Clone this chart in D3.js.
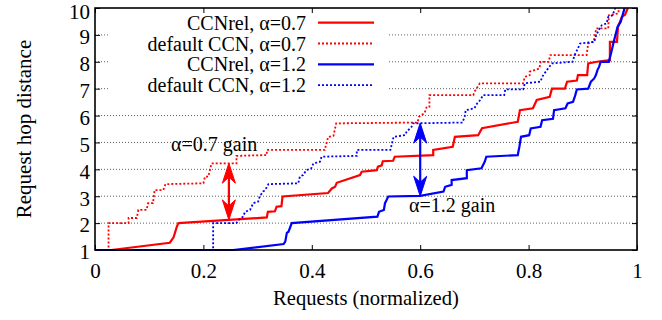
<!DOCTYPE html>
<html>
<head>
<meta charset="utf-8">
<script src="https://cdn.jsdelivr.net/npm/d3@7"></script>
<style>
  body { margin: 0; background: #fff; }
  text { font-family: "Liberation Serif", "Times New Roman", serif; fill: #000; }
</style>
</head>
<body>
<div id="vis"></div>
<script>
// series values: [requests (normalized), hop distance]
let relLow = [
  [0,1],[0.03,1],[0.138,1.27],[0.145,1.47],[0.151,1.87],[0.154,2.0],[0.317,2.21],[0.319,2.42],
  [0.332,2.44],[0.335,2.61],[0.344,2.63],[0.346,2.99],[0.43,3.12],[0.437,3.29],[0.443,3.35],
  [0.446,3.5],[0.489,3.79],[0.492,3.91],[0.52,3.97],[0.522,4.1],[0.529,4.15],[0.531,4.3],
  [0.55,4.32],[0.553,4.47],[0.624,4.53],[0.624,4.72],[0.66,4.84],[0.664,5.21],[0.707,5.27],
  [0.714,5.53],[0.78,5.77],[0.784,6.2],[0.808,6.27],[0.815,6.58],[0.839,6.7],[0.843,7.0],
  [0.867,7.0],[0.871,7.26],[0.889,7.3],[0.891,7.5],[0.908,7.5],[0.91,7.94],[0.926,8.0],
  [0.95,8.06],[0.95,8.74],[0.963,8.74],[0.965,9.3],[0.972,9.67],[0.978,9.75],[0.983,10]
]
let defLow = [
  [0,1],[0.025,1],[0.025,2.0],[0.062,2.0],[0.062,2.19],[0.077,2.19],[0.08,2.49],[0.095,2.49],
  [0.098,2.74],[0.107,2.74],[0.11,3.23],[0.126,3.23],[0.13,3.45],[0.2,3.48],[0.203,3.73],
  [0.209,3.73],[0.212,3.97],[0.215,4.22],[0.261,4.22],[0.261,4.5],[0.317,4.53],[0.317,4.72],
  [0.424,4.72],[0.426,4.9],[0.428,5.03],[0.43,5.2],[0.44,5.25],[0.445,5.71],[0.595,5.74],
  [0.598,5.96],[0.608,6.09],[0.612,6.33],[0.617,6.33],[0.617,6.76],[0.698,6.76],[0.7,6.88],
  [0.71,7.2],[0.79,7.2],[0.793,7.44],[0.802,7.5],[0.802,7.63],[0.82,7.75],[0.822,8.0],
  [0.837,8.0],[0.84,8.25],[0.907,8.25],[0.91,8.68],[0.92,8.74],[0.925,9.24],[0.947,9.24],
  [0.948,9.73],[0.966,9.8],[0.966,10]
]
let relHigh = [
  [0,1],[0.255,1.0],[0.348,1.22],[0.351,1.31],[0.354,1.64],[0.357,1.68],[0.363,2.0],
  [0.521,2.24],[0.524,2.42],[0.533,2.49],[0.535,2.74],[0.538,2.86],[0.541,2.99],[0.6,3.01],
  [0.643,3.17],[0.646,3.35],[0.658,3.42],[0.658,3.6],[0.686,3.67],[0.686,3.97],[0.713,4.04],
  [0.719,4.28],[0.722,4.47],[0.78,4.53],[0.783,4.84],[0.786,5.21],[0.801,5.27],[0.804,5.52],
  [0.822,5.58],[0.825,5.83],[0.845,5.88],[0.847,6.2],[0.868,6.27],[0.872,6.45],[0.882,6.51],
  [0.886,6.75],[0.889,6.97],[0.91,7.0],[0.915,7.26],[0.921,7.38],[0.924,7.5],[0.927,7.69],
  [0.93,7.81],[0.933,8.0],[0.948,8.0],[0.952,8.31],[0.957,8.74],[0.961,9.05],[0.964,9.3],
  [0.97,9.49],[0.976,9.92],[0.977,10]
]
let defHigh = [
  [0,1],[0.218,1],[0.218,2.0],[0.261,2.0],[0.264,2.1],[0.273,2.24],[0.277,2.42],[0.286,2.49],
  [0.292,2.74],[0.301,2.8],[0.304,3.0],[0.31,3.17],[0.314,3.23],[0.32,3.45],[0.375,3.48],
  [0.378,3.73],[0.384,3.79],[0.39,3.97],[0.399,4.04],[0.403,4.22],[0.415,4.28],[0.418,4.47],
  [0.483,4.5],[0.483,4.72],[0.545,4.72],[0.548,4.97],[0.551,5.21],[0.572,5.27],[0.575,5.4],
  [0.584,5.58],[0.587,5.71],[0.678,5.74],[0.682,5.96],[0.684,6.2],[0.7,6.27],[0.705,6.45],
  [0.711,6.58],[0.716,6.76],[0.755,6.76],[0.757,6.97],[0.79,6.97],[0.793,7.2],[0.822,7.26],
  [0.825,7.44],[0.834,7.7],[0.843,7.94],[0.881,8.0],[0.885,8.25],[0.891,8.5],[0.895,8.68],
  [0.921,8.74],[0.925,9.0],[0.93,9.2],[0.935,9.36],[0.944,9.43],[0.947,9.67],[0.955,9.73],
  [0.96,10]
]

let seriesNames = ['CCNrel, α=0.7', 'default CCN, α=0.7', 'CCNrel, α=1.2', 'default CCN, α=1.2']
let xTicks = [0, 0.2, 0.4, 0.6, 0.8, 1]
let yTicks = [1, 2, 3, 4, 5, 6, 7, 8, 9, 10]

// gain annotations: [x, from, to]
let gainArrows = [[0.247, 4.23, 2.12], [0.6, 5.72, 3.0]]
let gainLabels = ['α=0.7 gain', 'α=1.2 gain']

let W = 662, H = 320
let margin = { top: 8, left: 95, right: 25, bottom: 70 }

let svg = d3.select('#vis')
  .append('svg')
  .attr('width', W)
  .attr('height', H)

let x = d3.scaleLinear().domain([0, 1]).range([margin.left, W - margin.right])
let y = d3.scaleLinear().domain([1, 10]).range([H - margin.bottom, margin.top])

let colors = ['#ff0000', '#ff0000', '#0000ff', '#0000ff']
let dashed = [false, true, false, true]
let allSeries = [relLow, defLow, relHigh, defHigh]

// grid
svg.append('g')
  .selectAll('line')
  .data(yTicks.slice(1, -1))
  .join('line')
  .attr('x1', x(0)).attr('x2', x(1))
  .attr('y1', d => y(d)).attr('y2', d => y(d))
  .attr('stroke', '#606060')
  .attr('stroke-width', 1)
  .attr('stroke-dasharray', '1,2')

// key covers the grid
svg.append('rect')
  .attr('x', 108).attr('y', 11)
  .attr('width', 280).attr('height', 86)
  .attr('fill', '#fff')

// axes with inward ticks
let fontSize = 20, tickFont = 21
let xAxis = svg.append('g')
  .attr('transform', `translate(0,${y(1)})`)
  .call(d3.axisBottom(x).tickValues(xTicks).tickFormat(d3.format('')).tickSizeInner(-5).tickSizeOuter(0).tickPadding(13))
let xAxisTop = svg.append('g')
  .attr('transform', `translate(0,${y(10)})`)
  .call(d3.axisTop(x).tickValues(xTicks).tickFormat('').tickSizeInner(-5).tickSizeOuter(0))
let yAxis = svg.append('g')
  .attr('transform', `translate(${x(0)},0)`)
  .call(d3.axisLeft(y).tickValues(yTicks).tickSizeInner(-5).tickSizeOuter(0).tickPadding(5))
let yAxisRight = svg.append('g')
  .attr('transform', `translate(${x(1)},0)`)
  .call(d3.axisRight(y).tickValues(yTicks).tickFormat('').tickSizeInner(-5).tickSizeOuter(0))

svg.selectAll('.domain').remove()
svg.selectAll('.tick line').attr('stroke', '#000').attr('stroke-width', 1)
svg.selectAll('.tick text')
  .style('font-family', '"Liberation Serif", serif')
  .style('font-size', tickFont + 'px')
  .attr('fill', '#000')
xAxis.selectAll('.tick text').attr('dy', '0.72em')
yAxis.selectAll('.tick text').attr('dy', d => d === 10 ? '0.5em' : '0.42em')

// curves
let line = d3.line().x(d => x(d[0])).y(d => y(d[1]))
allSeries.forEach(function(s, i) {
  svg.append('path')
    .datum(s)
    .attr('d', line)
    .attr('fill', 'none')
    .attr('stroke', colors[i])
    .attr('stroke-width', dashed[i] ? 1.8 : 2.2)
    .attr('stroke-dasharray', dashed[i] ? '2,2' : null)
    .attr('stroke-linejoin', 'miter')
})

// border
svg.append('rect')
  .attr('x', x(0)).attr('y', y(10))
  .attr('width', x(1) - x(0)).attr('height', y(1) - y(10))
  .attr('fill', 'none')
  .attr('stroke', '#000')
  .attr('stroke-width', 1.6)

// key
let key = svg.append('g')
seriesNames.forEach(function(name, i) {
  let ky = 22.7 + i * 20.8
  key.append('text')
    .attr('x', 306).attr('y', ky)
    .attr('dy', '0.35em')
    .attr('text-anchor', 'end')
    .style('font-size', fontSize + 'px')
    .text(name)
  key.append('line')
    .attr('x1', 318).attr('x2', 374)
    .attr('y1', ky).attr('y2', ky)
    .attr('stroke', colors[i])
    .attr('stroke-width', dashed[i] ? 1.8 : 2.2)
    .attr('stroke-dasharray', dashed[i] ? '2,2' : null)
})

// gain arrows
function head(px, py, dir) {
  let L = 20, w = 6.5, n = 14
  return `M${px},${py} L${px - w},${py + dir * L} L${px},${py + dir * n} L${px + w},${py + dir * L} Z`
}
gainArrows.forEach(function(a, i) {
  let c = i === 0 ? '#ff0000' : '#0000ff'
  let ax = x(a[0]), y1 = y(a[1]), y2 = y(a[2])
  svg.append('line')
    .attr('x1', ax).attr('x2', ax)
    .attr('y1', y1 + 10).attr('y2', y2 - 10)
    .attr('stroke', c).attr('stroke-width', 2.2)
  svg.append('path').attr('d', head(ax, y1, 1)).attr('fill', c).attr('stroke', c).attr('stroke-width', 1)
  svg.append('path').attr('d', head(ax, y2, -1)).attr('fill', c).attr('stroke', c).attr('stroke-width', 1)
})

svg.append('text')
  .attr('x', 171).attr('y', 151)
  .style('font-size', fontSize + 'px')
  .text(gainLabels[0])
svg.append('text')
  .attr('x', 409).attr('y', 212)
  .style('font-size', fontSize + 'px')
  .text(gainLabels[1])

// axis titles
svg.append('text')
  .attr('x', (x(0) + x(1)) / 2).attr('y', 305)
  .attr('text-anchor', 'middle')
  .style('font-size', '20.6px')
  .text('Requests (normalized)')
svg.append('text')
  .attr('transform', `translate(31,${(y(1) + y(10)) / 2}) rotate(-90)`)
  .attr('text-anchor', 'middle')
  .style('font-size', '21px')
  .text('Request hop distance')
</script>
</body>
</html>
